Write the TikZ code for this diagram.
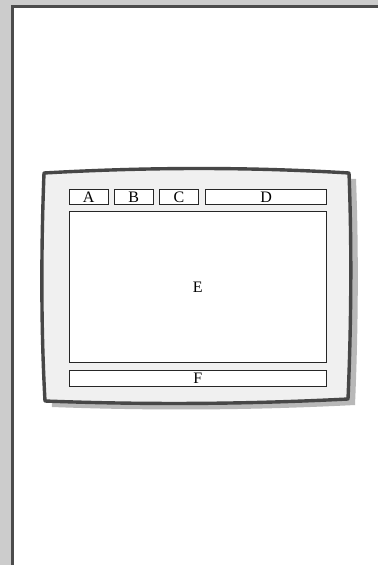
\documentclass[tikz,border=0pt]{standalone}
\usepackage{fontspec}
\setmainfont{Liberation Serif}
\begin{document}
\begin{tikzpicture}[x=1pt,y=-1pt,
  cell/.style={draw=black!85,line width=1.2pt,fill=white,inner sep=0pt,anchor=north west},
  lbl/.style={font=\fontsize{16}{18}\selectfont},
  frm/.style={line width=3.4pt,draw=black!72,fill=black!6,line join=round}]
\useasboundingbox (0,0) rectangle (378,565);
\fill[black!20] (0,0) rectangle (378,565);
\fill[white] (12.5,6.5) rectangle (378,565);
\draw[black!70,line width=3pt] (12.5,565) -- (12.5,6.5) -- (378,6.5);
% shadow
\fill[black!28] (51,179) .. controls (150,173) and (250,173) .. (356,179)
  .. controls (359,256) and (358,336) .. (355,405)
  .. controls (257,410) and (157,411) .. (52,407) -- cycle;
% frame
\path[frm] (44,173) .. controls (150,167) and (250,167) .. (349,173)
  .. controls (352,250) and (351,330) .. (348,399)
  .. controls (250,404) and (150,405) .. (45,401)
  .. controls (41,330) and (41,250) .. cycle;
\node[cell,minimum width=39pt,minimum height=15.5pt] (A) at (68.5,188.5) {};
\node[lbl] at (A.center) {A};
\node[cell,minimum width=39pt,minimum height=15.5pt] (B) at (113.5,188.5) {};
\node[lbl] at (B.center) {B};
\node[cell,minimum width=38.5pt,minimum height=15.5pt] (C) at (159,188.5) {};
\node[lbl] at (C.center) {C};
\node[cell,minimum width=121pt,minimum height=15.5pt] (D) at (205,188.5) {};
\node[lbl] at (D.center) {D};
\node[cell,minimum width=257.5pt,minimum height=151pt] (E) at (68.5,211) {};
\node[lbl] at (E.center) {E};
\node[cell,minimum width=257.5pt,minimum height=16pt] (F) at (68.5,369.5) {};
\node[lbl] at (F.center) {F};
\end{tikzpicture}
\end{document}
